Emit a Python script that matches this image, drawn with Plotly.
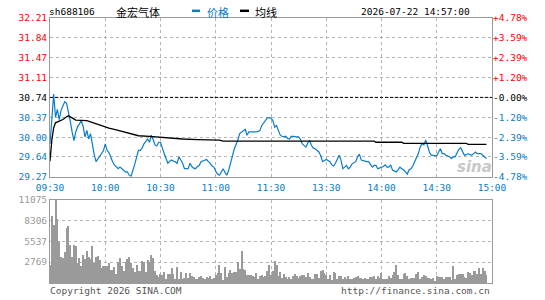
import plotly.graph_objects as go

# ---------------- data ----------------
stock_code = "sh688106"
stock_name = "金宏气体"
timestamp = "2026-07-22 14:57:00"
prev_close = 30.74

time_ticks = [0, 30, 60, 90, 120, 150, 180, 210, 240]
time_labels = ["09:30", "10:00", "10:30", "11:00", "11:30", "13:30", "14:00", "14:30", "15:00"]

price_ticks = [29.27, 29.64, 30.00, 30.37, 30.74, 31.11, 31.47, 31.84, 32.21]
price_labels = ["29.27", "29.64", "30.00", "30.37", "30.74", "31.11", "31.47", "31.84", "32.21"]
pct_labels = ["-4.78%", "-3.59%", "-2.39%", "-1.20%", "-0.00%", "+1.20%", "+2.39%", "+3.59%", "+4.78%"]

vol_ticks = [2769, 5537, 8306, 11075]
vol_labels = ["2769", "5537", "8306", "11075"]

# per-minute price (09:30 .. 14:57)
price = [
    29.88, 30.30, 30.80, 30.37, 30.52, 30.33, 30.50, 30.58, 30.66, 30.63,
    30.48, 30.30, 30.10, 29.94, 30.10, 30.20, 30.25, 30.31, 30.20, 30.01,
    30.13, 29.97, 30.07, 29.85, 29.68, 29.55, 29.60, 29.64, 29.68, 29.75,
    29.88, 29.76, 29.72, 29.62, 29.55, 29.49, 29.45, 29.42, 29.45, 29.42,
    29.39, 29.36, 29.36, 29.30, 29.28, 29.38, 29.50, 29.63, 29.76, 29.76,
    29.80, 29.88, 29.92, 29.97, 29.91, 30.04, 29.96, 29.86, 29.84, 29.91,
    29.91, 29.79, 29.70, 29.61, 29.52, 29.56, 29.58, 29.56, 29.55, 29.52,
    29.64, 29.58, 29.52, 29.42, 29.42, 29.42, 29.52, 29.46, 29.43, 29.42,
    29.46, 29.48, 29.55, 29.56, 29.57, 29.59, 29.55, 29.52, 29.47, 29.45,
    29.37, 29.32, 29.30, 29.36, 29.42, 29.35, 29.30, 29.39, 29.50, 29.65,
    29.78, 29.86, 29.95, 30.07, 30.10, 30.13, 30.15, 30.04, 30.10, 30.10,
    30.10, 30.09, 30.10, 30.11, 30.13, 30.22, 30.26, 30.30, 30.36, 30.36,
    30.36, 30.31, 30.19, 30.22, 30.13, 30.04, 30.02, 30.01, 30.02, 29.98,
    29.97, 30.02, 30.02, 30.01, 30.01, 30.01, 29.96, 29.88, 29.85, 29.82,
    29.90, 29.94, 29.85, 29.80, 29.79, 29.75, 29.73, 29.66, 29.55, 29.57,
    29.59, 29.57, 29.55, 29.49, 29.47, 29.52, 29.60, 29.67, 29.58, 29.42,
    29.45, 29.48, 29.42, 29.45, 29.51, 29.53, 29.55, 29.64, 29.69, 29.58,
    29.57, 29.55, 29.55, 29.55, 29.50, 29.45, 29.48, 29.48, 29.42, 29.44,
    29.45, 29.46, 29.49, 29.45, 29.45, 29.49, 29.39, 29.38, 29.36, 29.40,
    29.45, 29.42, 29.40, 29.36, 29.32, 29.40, 29.42, 29.47, 29.55, 29.64,
    29.70, 29.82, 29.88, 29.86, 29.95, 29.85, 29.73, 29.67, 29.67, 29.67,
    29.66, 29.73, 29.79, 29.70, 29.70, 29.67, 29.66, 29.64, 29.61, 29.64,
    29.64, 29.70, 29.78, 29.81, 29.73, 29.67, 29.68, 29.70, 29.68, 29.67,
    29.70, 29.73, 29.70, 29.70, 29.70, 29.67, 29.64, 29.61,
]

# average-price line, read at selected minutes
avg_minutes = [0, 1, 2, 3, 5, 7, 9, 10, 12, 14, 20, 24, 28, 32, 36, 40, 44, 48, 54, 60,
               66, 72, 80, 86, 92, 94, 117, 118, 154, 155, 176, 177, 191, 192, 226, 227, 237]
avg_values = [29.56, 29.95, 30.18, 30.27, 30.30, 30.33, 30.38, 30.40, 30.36, 30.32,
              30.31, 30.26, 30.21, 30.17, 30.14, 30.10, 30.06, 30.03, 30.02, 30.00,
              29.99, 29.97, 29.96, 29.95, 29.95, 29.93, 29.93, 29.94, 29.94, 29.93,
              29.93, 29.91, 29.91, 29.89, 29.89, 29.87, 29.87]

# per-minute volume (hands)
vol_am = [
    2409, 8979, 7753, 11038, 8541, 5563, 3460, 3329, 4117, 7402,
    7621, 5037, 3460, 5125, 4906, 2759, 3373, 2278, 3723, 3241,
    4249, 3500, 3241, 4906, 2716, 3460, 3592, 3154, 2015, 2365,
    2278, 2321, 2716, 1752, 1752, 2146, 1226, 2891, 3373, 2278,
    1621, 2891, 3241, 3460, 2716, 2059, 1489, 2497, 1621, 1621,
    2935, 2891, 1577, 3154, 2891, 3811, 3373, 1621, 1095, 876,
    1270, 1100, 1533, 526, 1183, 1270, 2059, 1183, 613, 2146,
    613, 1489, 526, 657, 1314, 745, 1314, 964, 832, 526,
    613, 832, 964, 745, 613, 832, 657, 964, 613, 745,
    1095, 1402, 2497, 1314, 438, 2146, 788, 1314, 1752, 1314,
    1489, 1500, 2803, 1927, 4336, 1927, 1752, 1095, 1095, 1095,
    964, 900, 1314, 526, 964, 1051, 876, 964, 1621, 2409,
]
vol_pm = [
    1095, 1621, 2935, 2409, 964, 1489, 745, 1270, 876, 526,
    876, 526, 964, 1270, 964, 657, 964, 1139, 1051, 832,
    1314, 876, 613, 526, 1183, 1183, 745, 1621, 1752, 1314,
    1095, 613, 1139, 438, 1489, 1402, 613, 964, 964, 526,
    876, 613, 964, 613, 613, 657, 876, 964, 745, 657,
    613, 745, 526, 613, 832, 832, 964, 526, 964, 657,
    1314, 613, 613, 526, 964, 745, 1095, 1489, 2409, 1095,
    613, 613, 1183, 1402, 964, 526, 657, 745, 745, 1183,
    1489, 613, 788, 1095, 964, 745, 701, 526, 657, 307,
    964, 832, 832, 832, 526, 832, 876, 832, 438, 2278,
    526, 1095, 1183, 1183, 1270, 832, 745, 1489, 1314, 1095,
    1621, 1621, 1183, 2059, 1183, 2015, 1621, 1095,
]

# ---------------- styling ----------------
RED = "#ff0000"
BLUE = "#0a7cc8"
BLACK = "#000000"
GRAY = "#9a9a9a"
GRID = "#b4b4b4"
MONO = "DejaVu Sans Mono, Noto Sans CJK SC, monospace"
CJK = "Noto Sans CJK SC, DejaVu Sans, sans-serif"
FS = 9.5


def colored(labels, values):
    out = []
    for lab, v in zip(labels, values):
        if v > prev_close + 1e-9:
            c = RED
        elif v < prev_close - 1e-9:
            c = BLUE
        else:
            c = BLACK
        out.append(f'<span style="color:{c}">{lab}</span>')
    return out


minutes = list(range(len(price)))
volume = vol_am + vol_pm
vol_minutes = list(range(len(volume)))

fig = go.Figure()

fig.add_trace(go.Bar(x=vol_minutes, y=volume, xaxis="x2", yaxis="y2",
                     marker=dict(color=GRAY, line=dict(width=0)), width=0.55,
                     hoverinfo="skip", showlegend=False))
fig.add_trace(go.Scatter(x=minutes, y=price, mode="lines", name="价格",
                         line=dict(color=BLUE, width=1.2), showlegend=False))
fig.add_trace(go.Scatter(x=avg_minutes, y=avg_values, mode="lines", name="均线",
                         line=dict(color=BLACK, width=1.3), showlegend=False))
# invisible copy for the right-hand percent axis
fig.add_trace(go.Scatter(x=minutes, y=price, mode="lines", yaxis="y3", opacity=0,
                         line=dict(width=0), hoverinfo="skip", showlegend=False))

P_BOT = 107 / 267
V_TOP = 84 / 267

grid_common = dict(showgrid=True, gridcolor=GRID, griddash="dot", gridwidth=1,
                   showline=True, linecolor=GRAY, linewidth=1, mirror=True,
                   zeroline=False, ticks="")

fig.update_layout(
    width=545, height=300,
    margin=dict(l=50, r=53, t=18, b=15),
    paper_bgcolor="white", plot_bgcolor="white",
    bargap=0,
    xaxis=dict(domain=[0, 1], range=[0, 240], anchor="y",
               tickvals=time_ticks, ticktext=time_labels, ticklabelstandoff=2,
               tickfont=dict(family=MONO, size=FS, color=BLUE), **grid_common),
    yaxis=dict(domain=[P_BOT, 1], range=[price_ticks[0], price_ticks[-1]], anchor="x",
               tickvals=price_ticks, ticktext=colored(price_labels, price_ticks),
               tickfont=dict(family=MONO, size=FS, color=BLACK), **grid_common),
    yaxis3=dict(overlaying="y", side="right", anchor="x",
                range=[price_ticks[0], price_ticks[-1]],
                tickvals=price_ticks, ticktext=colored(pct_labels, price_ticks),
                tickfont=dict(family=MONO, size=FS, color=BLACK),
                showgrid=False, zeroline=False, showline=False, ticks=""),
    xaxis2=dict(domain=[0, 1], range=[0, 240], anchor="y2",
                tickvals=time_ticks, showticklabels=False, **grid_common),
    yaxis2=dict(domain=[0, V_TOP], range=[0, vol_ticks[-1]], anchor="x2",
                tickvals=vol_ticks, ticktext=vol_labels,
                tickfont=dict(family=MONO, size=FS, color=GRAY), **grid_common),
    shapes=[
        dict(type="line", xref="x", yref="y", x0=0, x1=240, y0=prev_close, y1=prev_close,
             line=dict(color=BLACK, width=1, dash="3px,2px"), layer="above"),
        # legend swatches
        dict(type="rect", xref="paper", yref="paper",
             x0=(192 - 50) / 442, x1=(200 - 50) / 442,
             y0=(285 - 12) / 267, y1=(285 - 9.5) / 267,
             line=dict(width=0), fillcolor=BLUE),
        dict(type="rect", xref="paper", yref="paper",
             x0=(240 - 50) / 442, x1=(249 - 50) / 442,
             y0=(285 - 12) / 267, y1=(285 - 9.5) / 267,
             line=dict(width=0), fillcolor=BLACK),
    ],
)


def px_x(x):
    return (x - 50) / 442


def px_y(y):
    return (285 - y) / 267


ann = [
    dict(text=stock_code, x=px_x(47), y=px_y(11), xanchor="left",
         font=dict(family=MONO, size=FS, color=BLACK)),
    dict(text=stock_name, x=px_x(114), y=px_y(11.5), xanchor="left",
         font=dict(family=CJK, size=11, color=BLACK)),
    dict(text="价格", x=px_x(205), y=px_y(11.5), xanchor="left",
         font=dict(family=CJK, size=11, color=BLUE)),
    dict(text="均线", x=px_x(253), y=px_y(11.5), xanchor="left",
         font=dict(family=CJK, size=11, color=BLACK)),
    dict(text=timestamp, x=px_x(472), y=px_y(11), xanchor="right",
         font=dict(family=MONO, size=FS, color=BLACK)),
    dict(text="Copyright 2026 SINA.COM", x=px_x(48), y=px_y(293), xanchor="left",
         font=dict(family=MONO, size=FS, color="#555555")),
    dict(text="http://finance.sina.com.cn", x=px_x(492), y=px_y(293), xanchor="right",
         font=dict(family=MONO, size=FS, color="#555555")),
    dict(text="sina", x=px_x(474), y=px_y(168), xanchor="center",
         font=dict(family="DejaVu Sans, sans-serif", size=15, color="#c8c8c8",
                   style="italic", weight="bold")),
]
for a in ann:
    a.update(xref="paper", yref="paper", yanchor="middle", showarrow=False)
fig.update_layout(annotations=ann)

fig.write_html("out.html")
